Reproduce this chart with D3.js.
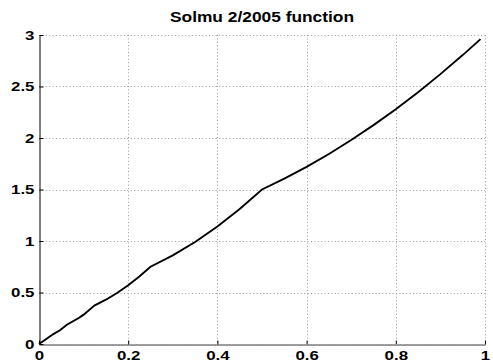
<!DOCTYPE html>
<html><head><meta charset="utf-8">
<script src="https://cdn.jsdelivr.net/npm/d3@7"></script>
<style>body{margin:0;background:#fff}svg{display:block}</style>
</head><body>
<svg id="c" width="493" height="363"></svg>
<script>
const title = "Solmu 2/2005 function";
const xTicks = [0, 0.2, 0.4, 0.6, 0.8, 1];
const yTicks = [0, 0.5, 1, 1.5, 2, 2.5, 3];
const xTickLabels = ["0", "0.2", "0.4", "0.6", "0.8", "1"];
const yTickLabels = ["0", "0.5", "1", "1.5", "2", "2.5", "3"];
const xs = [0, 0.015625, 0.03125, 0.047, 0.0625, 0.09, 0.1, 0.125, 0.15, 0.175, 0.2, 0.225, 0.25,
            0.3, 0.35, 0.4, 0.45, 0.5, 0.55, 0.6, 0.65, 0.7, 0.75, 0.8, 0.85, 0.9, 0.95, 0.99];
const ys = [0, 0.047, 0.094, 0.133, 0.1875, 0.255, 0.285, 0.375, 0.43, 0.495, 0.57, 0.655, 0.75,
            0.86, 0.99, 1.14, 1.31, 1.5, 1.605, 1.72, 1.845, 1.98, 2.125, 2.28, 2.445, 2.62, 2.805, 2.96];

const L = 39, R = 485, T = 35, B = 344;
const svg = d3.select("#c");
const x = d3.scaleLinear().domain([0, 1]).range([L, R]);
const y = d3.scaleLinear().domain([0, 3]).range([B, T]);
const font = "Liberation Sans, Arial, Helvetica, sans-serif";
const SX = 1.35;

// grid
const grid = svg.append("g").attr("stroke", "#9a9a9a").attr("stroke-width", 1)
  .attr("stroke-dasharray", "1,2.4").attr("fill", "none");
grid.selectAll("line.v").data(xTicks.filter(d => d > 0)).join("line")
  .attr("x1", d => Math.round(x(d)) + 0.5).attr("x2", d => Math.round(x(d)) + 0.5)
  .attr("y1", T).attr("y2", B);
grid.selectAll("line.h").data(yTicks.filter(d => d > 0)).join("line")
  .attr("x1", L).attr("x2", R)
  .attr("y1", d => Math.round(y(d)) + 0.5).attr("y2", d => Math.round(y(d)) + 0.5);

// axes
const xAxis = d3.axisBottom(x).tickValues(xTicks).tickFormat((d, i) => xTickLabels[i]).tickSizeInner(-4).tickSizeOuter(0);
const gx = svg.append("g").attr("transform", `translate(0,${B + 0.5})`).call(xAxis);
gx.select(".domain").attr("stroke", "#333");
gx.selectAll(".tick line").attr("stroke", "#000");
gx.selectAll("text").attr("font-family", font).attr("font-weight", "bold").attr("font-size", 12.5).attr("fill", "#000")
  .attr("y", 0).attr("dy", null).attr("transform", `translate(0,15.5) scale(${SX},1)`);
svg.append("line").attr("x1", L).attr("x2", R).attr("y1", B + 0.5).attr("y2", B + 0.5)
  .attr("stroke", "#aaa").attr("stroke-dasharray", "1,2");

const yAxis = d3.axisLeft(y).tickValues(yTicks).tickFormat((d, i) => yTickLabels[i]).tickSizeInner(-4).tickSizeOuter(0);
const gy = svg.append("g").attr("transform", `translate(${L + 0.5},0)`).call(yAxis);
gy.select(".domain").attr("stroke", "#000");
gy.selectAll(".tick line").attr("stroke", "#000");
gy.selectAll("text").attr("font-family", font).attr("font-weight", "bold").attr("font-size", 12.5).attr("fill", "#000")
  .attr("x", 0).attr("dy", "0.35em").attr("transform", `translate(-5,0) scale(${SX},1)`);

// curve
const pts = xs.map((d, i) => [d, ys[i]]);
svg.append("path").datum(pts)
  .attr("d", d3.line().x(d => x(d[0])).y(d => y(d[1])))
  .attr("fill", "none").attr("stroke", "#000").attr("stroke-width", 1.9);

// title
svg.append("text").attr("transform", `translate(${(L + R) / 2},22) scale(1.12,1)`).attr("text-anchor", "middle")
  .attr("font-family", font).attr("font-weight", "bold").attr("font-size", 15.5).text(title);
</script>
</body></html>
